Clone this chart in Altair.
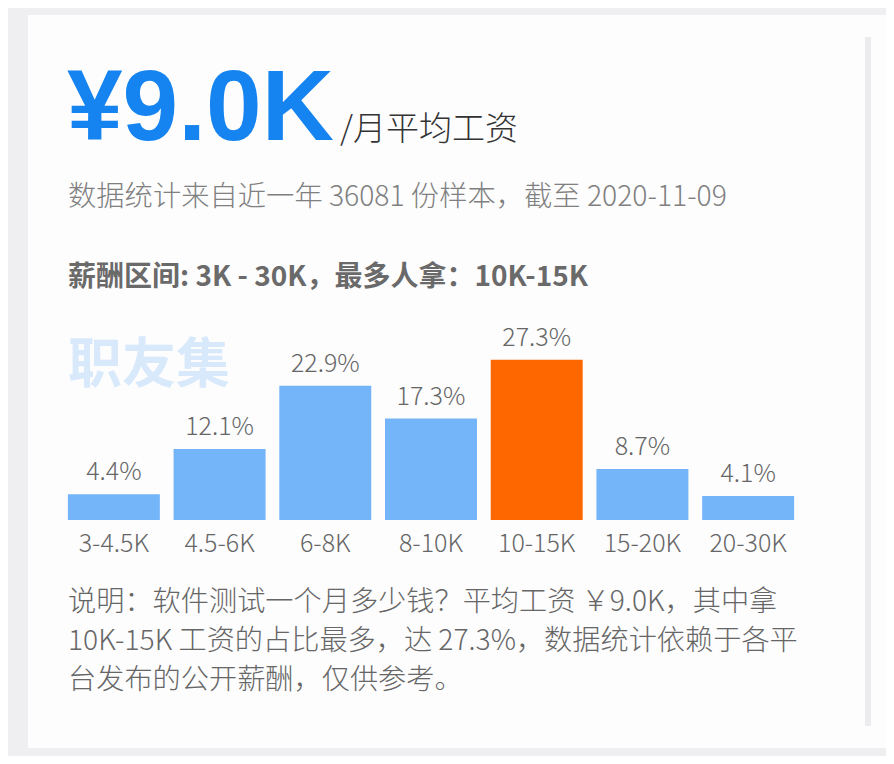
import altair as alt
import pandas as pd

# ---- data ----
categories = ["3-4.5K", "4.5-6K", "6-8K", "8-10K", "10-15K", "15-20K", "20-30K"]
shares = [4.4, 12.1, 22.9, 17.3, 27.3, 8.7, 4.1]
label_texts = ["4.4%", "12.1%", "22.9%", "17.3%", "27.3%", "8.7%", "4.1%"]
highlight = "10-15K"

title_big = "¥9.0K"
title_small = "/月平均工资"
subtitle = "数据统计来自近一年 36081 份样本，截至 2020-11-09"
range_text = "薪酬区间: 3K - 30K，最多人拿：10K-15K"
watermark = "职友集"
desc_lines = [
    "说明：软件测试一个月多少钱？平均工资 ￥9.0K，其中拿",
    "10K-15K 工资的占比最多，达 27.3%，数据统计依赖于各平",
    "台发布的公开薪酬，仅供参考。",
]

df = pd.DataFrame({"cat": categories, "share": shares, "label": label_texts})

CJK = "Noto Sans CJK SC"
BLUE = "#74b4f9"
ORANGE = "#fe6600"

x_enc = alt.X("cat:N", sort=categories,
              scale=alt.Scale(paddingInner=0.13, paddingOuter=0.065),
              axis=alt.Axis(title=None, labelAngle=0, ticks=False, domain=False,
                            labelFont=CJK, labelFontSize=25, labelFontWeight=300,
                            labelColor="#666666", zindex=2,
                            labelPadding=23, labelBaseline="middle", grid=False))
y_enc = alt.Y("share:Q", scale=alt.Scale(domain=[0, 30], nice=False), axis=None)

base = alt.Chart(df)

bars = base.mark_bar(clip=False).encode(
    x=x_enc, y=y_enc,
    color=alt.condition(alt.datum.cat == highlight, alt.value(ORANGE), alt.value(BLUE)),
)
labels = base.mark_text(font=CJK, fontSize=25, fontWeight=300, color="#666666",
                        dy=-14, baseline="alphabetic").encode(
    x=alt.X("cat:N", sort=categories), y="share:Q", text="label:N")

one = pd.DataFrame({"k": [0]})

def txt(s, x, y, **kw):
    return alt.Chart(one).mark_text(text=s, align="left", clip=False, **kw).encode(
        x=alt.value(x), y=alt.value(y))

card = alt.Chart(one).mark_rect(color="#fdfdfe", clip=False).encode(
    x=alt.value(-33), x2=alt.value(840), y=alt.value(-329), y2=alt.value(404))
scroll = alt.Chart(one).mark_rect(color="#ececef", clip=False).encode(
    x=alt.value(804), x2=alt.value(810), y=alt.value(-307), y2=alt.value(382))

layers = [
    card, scroll,
    txt(watermark, 7, 23, font=CJK, fontSize=54, fontWeight="bold",
        color="#d8e9fb", baseline="middle"),
    bars, labels,
    txt(title_big, 6, -204, font="Liberation Sans", fontSize=100,
        fontWeight="bold", color="#1684f0", baseline="alphabetic"),
    txt(title_small, 279, -204, font=CJK, fontSize=33, fontWeight=300,
        color="#333333", baseline="alphabetic"),
    txt(subtitle, 7, -146, font=CJK, fontSize=28.3, fontWeight=300,
        color="#808080", baseline="middle"),
    txt(range_text, 7, -66, font=CJK, fontSize=28, fontWeight="bold",
        color="#6a6a6a", baseline="middle"),
]
for i, line in enumerate(desc_lines):
    layers.append(txt(line, 7, 259 + 39 * i, font=CJK, fontSize=28.2,
                      fontWeight=300, color="#666666", baseline="middle"))

chart = alt.layer(*layers).properties(
    width=740, height=176,
    autosize=alt.AutoSizeParams(type="none"),
    padding={"left": 53, "top": 336, "right": 85, "bottom": 236},
    background="#efeff1",
).configure_view(stroke=None, fill=None)

chart.save("out.html", embed_options={"renderer": "svg", "actions": False})
